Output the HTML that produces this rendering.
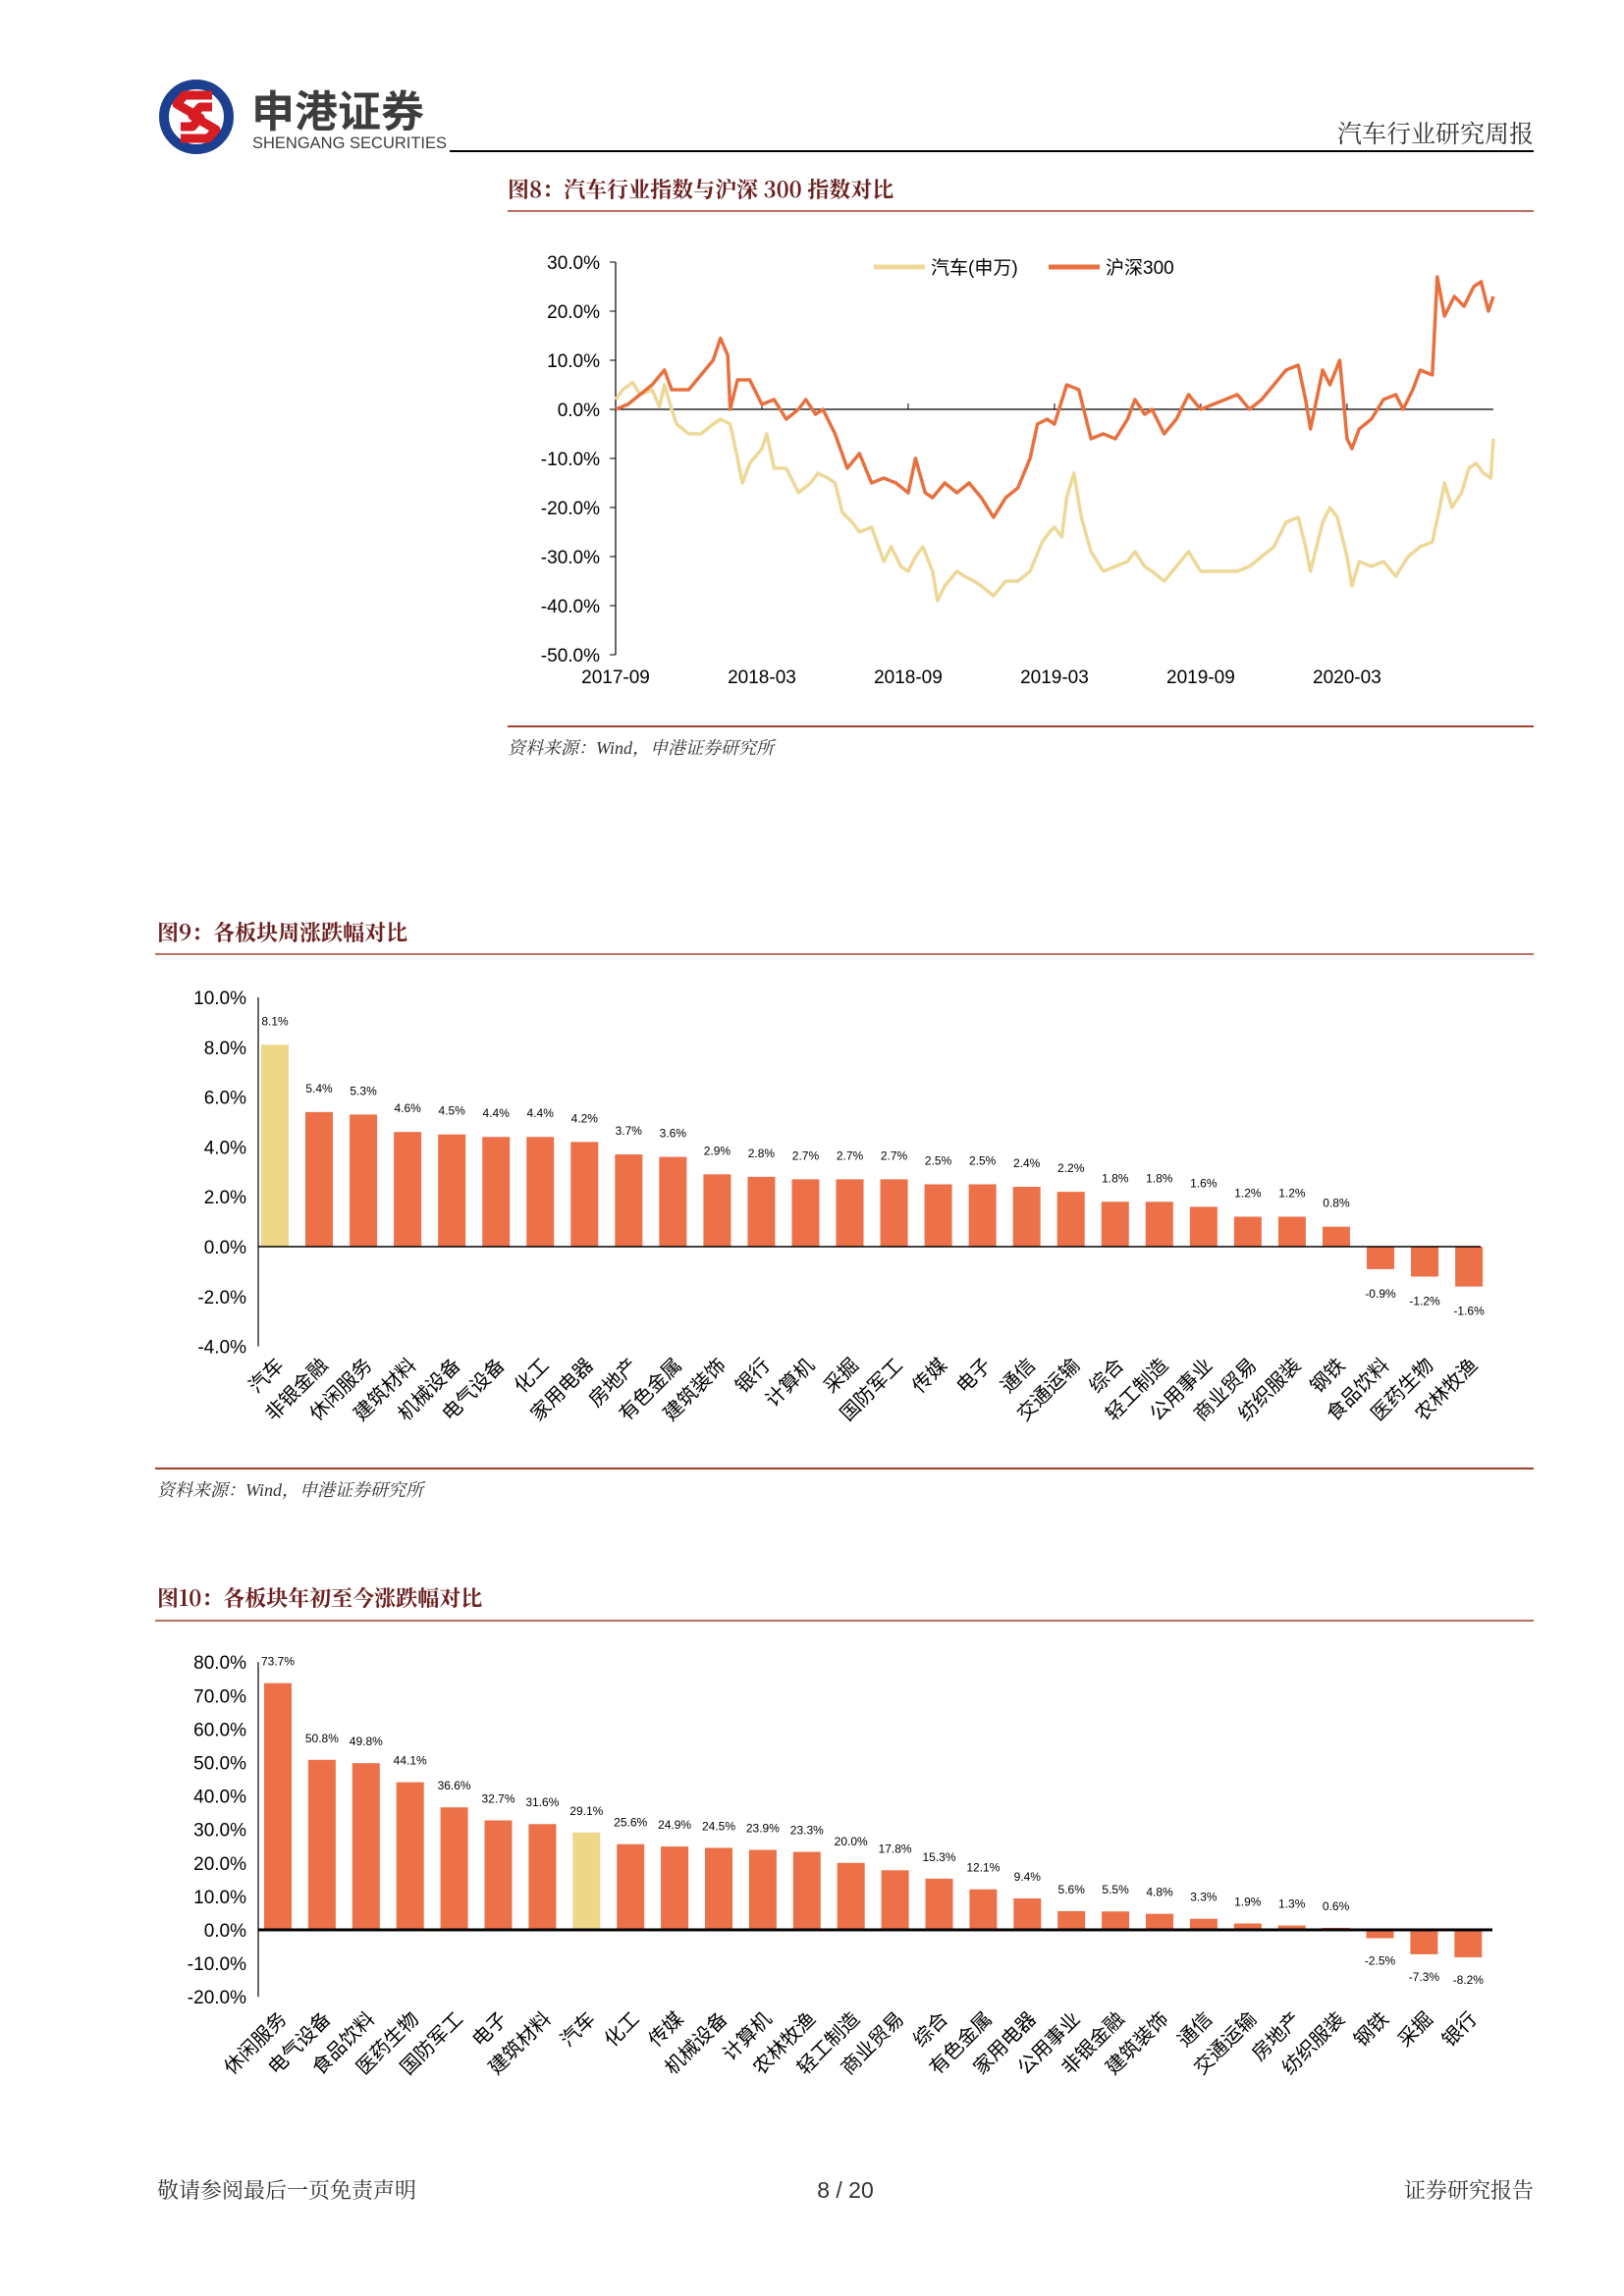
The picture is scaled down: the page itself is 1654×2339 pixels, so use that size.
<!DOCTYPE html>
<html><head><meta charset="utf-8"><style>
html,body{margin:0;padding:0;background:#fff}
svg{display:block}
text{font-family:"Liberation Sans","Noto Sans CJK SC",sans-serif}
.n{font-family:"Liberation Sans Narrow","Liberation Sans","Noto Sans CJK SC",sans-serif}
.t{font-family:"Noto Serif CJK SC","Noto Sans CJK SC",serif;font-weight:bold;fill:#6b1f1f}
.s{font-family:"Liberation Serif","Noto Serif CJK SC",serif;font-style:italic;fill:#333}
</style></head><body>
<svg id="pg" width="1654" height="2339" viewBox="0 0 1654 2339" xmlns="http://www.w3.org/2000/svg">
<g>
<circle cx="200" cy="119" r="33" fill="none" stroke="#1d3f8f" stroke-width="10"/>
<path d="M216 97 L188 97 L180 106 L204 120 L196 129 L184 129 M184 141 L212 141 L220 132 L196 118 L204 109 L216 109" fill="none" stroke="#d71c24" stroke-width="9" stroke-linejoin="round"/>
</g>
<text x="256" y="129" font-size="44" font-weight="bold" fill="#3d3d3d" style="font-family:'Noto Sans CJK SC',sans-serif">申港证券</text>
<text x="257" y="151" font-size="16.5" fill="#3d3d3d">SHENGANG SECURITIES</text>
<line x1="458" y1="154" x2="1562" y2="154" stroke="#000" stroke-width="2"/>
<text x="1562" y="145" font-size="25" text-anchor="end" fill="#333" style="font-family:'Noto Serif CJK SC',serif">汽车行业研究周报</text>

<text x="517" y="201" font-size="22" class="t">图8：汽车行业指数与沪深 300 指数对比</text>
<line x1="517" y1="215" x2="1562" y2="215" stroke="#a0412d" stroke-width="1.5"/>
<g id="fig8"></g>
<line x1="517" y1="740" x2="1562" y2="740" stroke="#a0412d" stroke-width="2"/>
<text x="517" y="768" font-size="18" class="s">资料来源：Wind，申港证券研究所</text>

<text x="160" y="958" font-size="22" class="t">图9：各板块周涨跌幅对比</text>
<line x1="158" y1="972" x2="1562" y2="972" stroke="#a0412d" stroke-width="1.5"/>
<g id="fig9"></g>
<line x1="158" y1="1496" x2="1562" y2="1496" stroke="#a0412d" stroke-width="2"/>
<text x="160" y="1524" font-size="18" class="s">资料来源：Wind，申港证券研究所</text>

<text x="160" y="1636" font-size="22" class="t">图10：各板块年初至今涨跌幅对比</text>
<line x1="158" y1="1651" x2="1562" y2="1651" stroke="#a0412d" stroke-width="1.5"/>
<g id="fig10"></g>

<text x="160" y="2239" font-size="22" fill="#333" style="font-family:'Noto Serif CJK SC',serif">敬请参阅最后一页免责声明</text>
<text x="861" y="2239" font-size="23" fill="#333" text-anchor="middle">8 / 20</text>
<text x="1562" y="2239" font-size="22" fill="#333" text-anchor="end" style="font-family:'Noto Serif CJK SC',serif">证券研究报告</text>
</svg>
<script>
const NS="http://www.w3.org/2000/svg";
// ---- Fig 8 data (months since 2017-09, percent) ----
const hsMonths=[0,0.5,1,1.5,2,2.3,3,3.5,4,4.3,4.6,4.7,5,5.5,6,6.5,7,7.5,7.8,8.2,8.5,9,9.5,10,10.5,11,11.5,12,12.3,12.7,13,13.5,14,14.5,15,15.5,16,16.5,17,17.3,17.7,18,18.5,19,19.5,20,20.5,21,21.3,21.7,22,22.5,23,23.5,24,24.5,25,25.5,26,26.5,27,27.5,28,28.3,28.5,29,29.3,29.7,30,30.2,30.5,31,31.5,32,32.3,32.7,33,33.5,33.7,34,34.4,34.8,35.2,35.5,35.8,36];
const hsValues=[0,1,3,5,8,4,4,7,10,14.5,11,0,6,6,1,2,-2,0,2,-1,0,-5,-12,-9,-15,-14,-15,-17,-10,-17,-18,-15,-17,-15,-18,-22,-18,-16,-10,-3,-2,-3,5,4,-6,-5,-6,-2,2,-1,0,-5,-2,3,0,1,2,3,0,2,5,8,9,2,-4,8,5,10,-6,-8,-4,-2,2,3,0,4,8,7,27,19,23,21,25,26,20,23];
const autoMonths=[0,0.3,0.7,1,1.5,1.8,2,2.3,2.5,3,3.5,4,4.3,4.7,5,5.2,5.5,6,6.2,6.5,7,7.5,8,8.3,8.7,9,9.3,9.7,10,10.5,11,11.3,11.7,12,12.3,12.6,13,13.2,13.5,14,14.3,14.7,15,15.5,16,16.5,17,17.5,17.8,18,18.3,18.5,18.8,19.1,19.5,20,20.5,21,21.3,21.7,22,22.5,23,23.5,24,24.5,25,25.5,26,26.5,27,27.5,28,28.3,28.5,29,29.3,29.6,30,30.2,30.5,31,31.5,32,32.5,33,33.5,33.8,34,34.3,34.7,35,35.3,35.6,35.9,36];
const autoValues=[2,4,5.5,3,4,0.5,5,0,-3,-5,-5,-3,-2,-3,-10,-15,-11,-8,-5,-12,-12,-17,-15,-13,-14,-15,-21,-23,-25,-24,-31,-28,-32,-33,-30,-28,-33,-39,-36,-33,-34,-35,-36,-38,-35,-35,-33,-27,-25,-24,-26,-18,-13,-22,-29,-33,-32,-31,-29,-32,-33,-35,-32,-29,-33,-33,-33,-33,-32,-30,-28,-23,-22,-28,-33,-23,-20,-22,-30,-36,-31,-32,-31,-34,-30,-28,-27,-20,-15,-20,-17,-12,-11,-13,-14,-6];
const f8Ticks=[30,20,10,0,-10,-20,-30,-40,-50];
const f8XLabels=["2017-09","2018-03","2018-09","2019-03","2019-09","2020-03"];
const f8XLabelMonths=[0,6,12,18,24,30];

// ---- Fig 9 data ----
const f9Cats=["汽车","非银金融","休闲服务","建筑材料","机械设备","电气设备","化工","家用电器","房地产","有色金属","建筑装饰","银行","计算机","采掘","国防军工","传媒","电子","通信","交通运输","综合","轻工制造","公用事业","商业贸易","纺织服装","钢铁","食品饮料","医药生物","农林牧渔"];
const f9Values=[8.1,5.4,5.3,4.6,4.5,4.4,4.4,4.2,3.7,3.6,2.9,2.8,2.7,2.7,2.7,2.5,2.5,2.4,2.2,1.8,1.8,1.6,1.2,1.2,0.8,-0.9,-1.2,-1.6];
const f9Ticks=[10,8,6,4,2,0,-2,-4];

// ---- Fig 10 data ----
const f10Cats=["休闲服务","电气设备","食品饮料","医药生物","国防军工","电子","建筑材料","汽车","化工","传媒","机械设备","计算机","农林牧渔","轻工制造","商业贸易","综合","有色金属","家用电器","公用事业","非银金融","建筑装饰","通信","交通运输","房地产","纺织服装","钢铁","采掘","银行"];
const f10Values=[73.7,50.8,49.8,44.1,36.6,32.7,31.6,29.1,25.6,24.9,24.5,23.9,23.3,20.0,17.8,15.3,12.1,9.4,5.6,5.5,4.8,3.3,1.9,1.3,0.6,-2.5,-7.3,-8.2];
const f10Ticks=[80,70,60,50,40,30,20,10,0,-10,-20];

function mk(parent,tag,attrs,txt){const e=document.createElementNS(NS,tag);for(const k in attrs)e.setAttribute(k,attrs[k]);if(txt!==undefined)e.textContent=txt;parent.appendChild(e);return e;}

// Fig 8
(function(){
const g=document.getElementById('fig8');
const x0=627,pxPerMonth=24.83,y0=417,pxPerPct=5.0;
const X=m=>x0+m*pxPerMonth, Y=v=>y0-v*pxPerPct;
let e=mk(g,'line',{x1:x0,y1:Y(30),x2:x0,y2:Y(-50),stroke:'#000','stroke-width':1.2});


f8Ticks.forEach(t=>{
 let tk=mk(g,'line',{x1:x0-6,y1:Y(t),x2:x0,y2:Y(t),stroke:'#000','stroke-width':1});
 
 
 let l=mk(g,'text',{x:x0-16,y:Y(t)+7,'font-size':19,'text-anchor':'end',fill:'#000'},t.toFixed(1)+'%');
 
 
});
e=mk(g,'line',{x1:x0,y1:Y(0),x2:X(36),y2:Y(0),stroke:'#000','stroke-width':1.2});


f8XLabels.forEach((s,i)=>{
 let tk=mk(g,'line',{x1:X(f8XLabelMonths[i]),y1:Y(0),x2:X(f8XLabelMonths[i]),y2:Y(0)-6,stroke:'#000','stroke-width':1});
 
 
 let l=mk(g,'text',{x:X(f8XLabelMonths[i]),y:696,'font-size':19,'text-anchor':'middle',fill:'#000'},s);
 
 
});
const pts=(ms,vs)=>ms.map((m,i)=>X(m).toFixed(1)+','+Y(vs[i]).toFixed(1)).join(' ');
let a=mk(g,'polyline',{points:pts(autoMonths,autoValues),fill:'none',stroke:'#EDD898','stroke-width':3.5,'stroke-linejoin':'round'});


let h=mk(g,'polyline',{points:pts(hsMonths,hsValues),fill:'none',stroke:'#E8703F','stroke-width':3.5,'stroke-linejoin':'round'});


let lg=mk(g,'g',{});


let l1=mk(lg,'line',{x1:890,y1:272,x2:942,y2:272,stroke:'#EDD898','stroke-width':5});


let t1=mk(lg,'text',{x:948,y:279,'font-size':19,fill:'#000'},'汽车(申万)');


let l2=mk(lg,'line',{x1:1068,y1:272,x2:1120,y2:272,stroke:'#E8703F','stroke-width':5});


let t2=mk(lg,'text',{x:1126,y:279,'font-size':19,fill:'#000'},'沪深300');


})();

function barChart(id,cats,vals,ticks,cfg){
 const g=document.getElementById(id);
 const Y=v=>cfg.y0-v*cfg.ppp;
 const X=i=>cfg.xFirst+i*cfg.step;
 let ax=mk(g,'line',{x1:cfg.ax,y1:Y(ticks[0]),x2:cfg.ax,y2:Y(ticks[ticks.length-1]),stroke:'#000','stroke-width':1.2});
 
 
 ticks.forEach(t=>{
  let l=mk(g,'text',{x:cfg.ax-12,y:Y(t)+7,'font-size':19,'text-anchor':'end',fill:'#000'},t.toFixed(1)+'%');
  
  
 });
 vals.forEach((v,i)=>{
  const xc=X(i);
  let r=mk(g,'rect',{x:xc-cfg.bw/2,y:Math.min(Y(v),Y(0)),width:cfg.bw,height:Math.abs(Y(v)-Y(0)),fill:cats[i]==='汽车'?'#EFD78A':'#EC7149'});
  
  
  const ly=v>=0?Y(v)-cfg.lblGap:Y(v)+cfg.lblGap+9;
  let vl=mk(g,'text',{x:xc,y:ly,'font-size':12,'text-anchor':'middle',fill:'#000'},v.toFixed(1)+'%');
  
  
  let cl=mk(g,'text',{x:xc+10,y:cfg.catY,'font-size':20,'text-anchor':'end',fill:'#000',transform:'rotate(-45 '+(xc+10)+' '+cfg.catY+')'},cats[i]);
  
  
 });
 let z=mk(g,'line',{x1:cfg.ax,y1:Y(0),x2:cfg.zEnd,y2:Y(0),stroke:'#000','stroke-width':cfg.zw});
 
 
}
barChart('fig9',f9Cats,f9Values,f9Ticks,{y0:1270,ppp:25.4,xFirst:280,step:45.04,bw:28,ax:263,zEnd:1508,zw:1.5,catY:1392,lblGap:20});
barChart('fig10',f10Cats,f10Values,f10Ticks,{y0:1966,ppp:3.41,xFirst:283,step:44.9,bw:28,ax:263,zEnd:1520,zw:3,catY:2058,lblGap:18});
</script>
</body></html>
